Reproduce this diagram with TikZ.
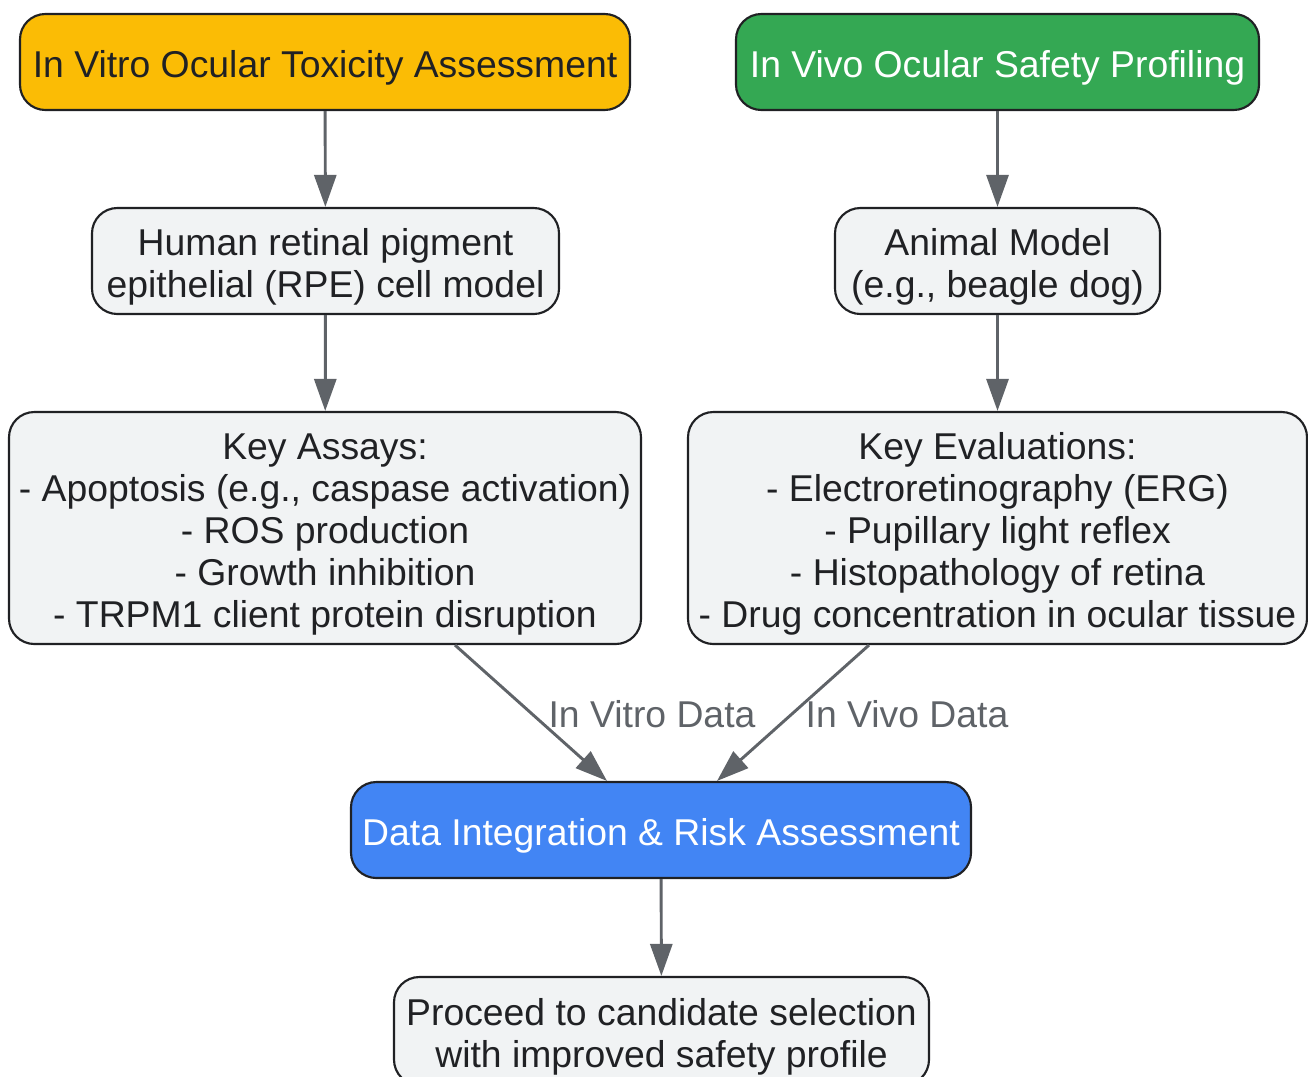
\documentclass[tikz,border=0pt]{standalone}
\usepackage{fontspec}
\setmainfont{Liberation Sans}
\usetikzlibrary{arrows.meta}
\definecolor{edgec}{HTML}{5F6368}
\definecolor{linec}{HTML}{202124}
\definecolor{boxgray}{HTML}{F1F3F4}
\definecolor{yel}{HTML}{FBBC05}
\definecolor{grn}{HTML}{34A853}
\definecolor{blu}{HTML}{4285F4}
\newcommand\firststrut{\rule{0pt}{29pt}}
\begin{document}
\begin{tikzpicture}[x=0.75pt,y=-0.75pt,
  box/.style={draw=linec, line width=1.6pt, rounded corners=19pt, fill=boxgray,
    text=linec, align=center, inner sep=0pt, font=\fontsize{28}{31.5}\selectfont},
  conn/.style={draw=edgec, line width=2.2pt, -{Triangle[length=24pt,width=16.5pt]}},
  lbl/.style={text=edgec, font=\fontsize{28}{31.5}\selectfont, inner sep=0pt}]
\useasboundingbox (0,0) rectangle (1308,1076);
\node[box, fill=yel, minimum width=610*0.75pt, minimum height=96*0.75pt] (A) at (325,62) {\firststrut In Vitro Ocular Toxicity Assessment};
\node[box, fill=grn, text=white, minimum width=523*0.75pt, minimum height=96*0.75pt] (B) at (997.5,62) {\firststrut In Vivo Ocular Safety Profiling};
\node[box, minimum width=467*0.75pt, minimum height=106*0.75pt] (C) at (325.5,261) {\firststrut Human retinal pigment\\epithelial (RPE) cell model};
\node[box, minimum width=325*0.75pt, minimum height=106*0.75pt] (D) at (997.5,261) {\firststrut Animal Model\\(e.g., beagle dog)};
\node[box, minimum width=632*0.75pt, minimum height=232*0.75pt] (E) at (325,528) {\firststrut Key Assays:\\- Apoptosis (e.g., caspase activation)\\- ROS production\\- Growth inhibition\\- TRPM1 client protein disruption};
\node[box, minimum width=619*0.75pt, minimum height=232*0.75pt] (F) at (997.5,528) {\firststrut Key Evaluations:\\- Electroretinography (ERG)\\- Pupillary light reflex\\- Histopathology of retina\\- Drug concentration in ocular tissue};
\node[box, fill=blu, text=white, minimum width=620*0.75pt, minimum height=96*0.75pt] (G) at (661,830) {\firststrut Data Integration \& Risk Assessment};
\node[box, minimum width=535*0.75pt, minimum height=108*0.75pt] (H) at (661.5,1031) {\firststrut Proceed to candidate selection\\with improved safety profile};
\draw[conn] (A) -- (C);
\draw[conn] (B) -- (D);
\draw[conn] (C) -- (E);
\draw[conn] (D) -- (F);
\draw[conn] ([xshift=130*0.75pt]E.south) -- ([xshift=-54*0.75pt]G.north);
\draw[conn] ([xshift=-128.5*0.75pt]F.south) -- ([xshift=56*0.75pt]G.north);
\draw[conn] (G) -- (H);
\node[lbl] (l1) at (652,714) {In Vitro Data};
\node[lbl] (l2) at (907,714) {In Vivo Data};
\end{tikzpicture}
\end{document}
